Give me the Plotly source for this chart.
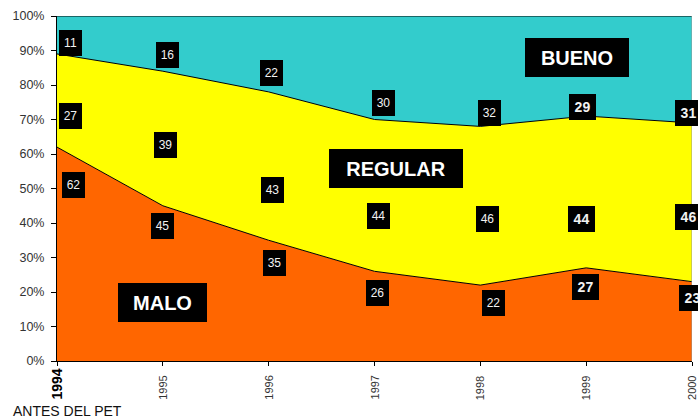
import plotly.graph_objects as go

years = [1994, 1995, 1996, 1997, 1998, 1999, 2000]
malo = [62, 45, 35, 26, 22, 27, 23]
regular = [27, 39, 43, 44, 46, 44, 46]
bueno = [11, 16, 22, 30, 32, 29, 31]
y_ticks = [0, 10, 20, 30, 40, 50, 60, 70, 80, 90, 100]
y_tick_labels = ["0%", "10%", "20%", "30%", "40%", "50%", "60%", "70%", "80%", "90%", "100%"]
x_tick_labels = ["1994", "1995", "1996", "1997", "1998", "1999", "2000"]
series_names = ["MALO", "REGULAR", "BUENO"]
footnote = "ANTES DEL PET"

# label placement (styles/positions, not data)
malo_ly = [50.9, 39.1, 28.3, 19.8, 16.7, 21.4, 18.3]
regular_ly = [71.0, 62.6, 49.7, 41.9, 41.1, 41.2, 41.6]
bueno_ly = [92.2, 88.6, 83.4, 74.7, 72.0, 73.5, 71.9]
malo_dx = [16, 0, 6, 3, 13, -1, 0]
regular_dx = [13, 3, 4, 4, 7, -5, -4]
bueno_dx = [13, 5, 3, 9, 9, -4, -4]
bold_year = [False, False, False, False, False, True, True]

FONT = "Arial, Liberation Sans, sans-serif"
colors = ["#FF6600", "#FFFF00", "#33CCCC"]

fig = go.Figure()
for name, vals, col in zip(series_names, [malo, regular, bueno], colors):
    fig.add_trace(go.Scatter(
        x=years, y=vals, name=name, stackgroup="one", mode="lines",
        line=dict(color="black", width=1), fillcolor=col, hoverinfo="skip"))

anns = []
for vals, lys, dxs in [(malo, malo_ly, malo_dx), (regular, regular_ly, regular_dx),
                       (bueno, bueno_ly, bueno_dx)]:
    for i, (yr, v) in enumerate(zip(years, vals)):
        b = bold_year[i]
        anns.append(dict(
            x=yr, y=lys[i], xref="x", yref="y", xshift=dxs[i],
            xanchor="center", yanchor="middle",
            text=f"<b>{v}</b>" if b else str(v), showarrow=False,
            font=dict(family=FONT, size=14 if b else 12, color="#F2F2F2"),
            bgcolor="black", borderwidth=0, borderpad=0,
            width=27 if b else 23, height=26, align="center", valign="middle"))

# big category labels
for txt, px, py, w in [("MALO", 0.1658, 0.170, 89), ("REGULAR", 0.5336, 0.5586, 134),
                       ("BUENO", 0.8189, 0.8806, 104)]:
    anns.append(dict(
        x=px, y=py, xref="paper", yref="paper", xanchor="center", yanchor="middle",
        text=f"<b>{txt}</b>", showarrow=False,
        font=dict(family=FONT, size=20, color="white"), bgcolor="black",
        borderwidth=0, borderpad=0, width=w, height=39, align="center", valign="middle"))

# rotated x tick labels, bottom-aligned
for i, (yr, lab) in enumerate(zip(years, x_tick_labels)):
    first = i == 0
    anns.append(dict(
        x=yr, y=-0.113, xref="x", yref="paper", textangle=-90, showarrow=False,
        text=f"<b>{lab}</b>" if first else lab, xanchor="center", yanchor="bottom",
        font=dict(family=FONT, size=14 if first else 11, color="black" if first else "#333"),
        borderpad=0, borderwidth=0))

anns.append(dict(
    x=(11 - 57) / 635, y=-0.145, xref="paper", yref="paper", text=footnote,
    showarrow=False, xanchor="left", yanchor="middle",
    font=dict(family=FONT, size=14, color="#111")))

fig.update_layout(
    width=698, height=419,
    margin=dict(l=57, r=6, t=16, b=58),
    paper_bgcolor="white", plot_bgcolor="white",
    showlegend=False,
    annotations=anns,
    shapes=[dict(type="line", xref="x", yref="paper", x0=2000, x1=2000, y0=0, y1=1,
                 line=dict(color="#999999", width=1))],
    xaxis=dict(range=[1994, 2000], tickvals=years, showticklabels=False,
               showline=True, linecolor="black", linewidth=1,
               ticks="outside", ticklen=4, tickcolor="black", showgrid=False,
               zeroline=False, fixedrange=True),
    yaxis=dict(range=[0, 100], tickvals=y_ticks, ticktext=y_tick_labels,
               showline=True, linecolor="black", linewidth=1,
               ticks="outside", ticklen=5, tickcolor="black", showgrid=False,
               zeroline=False, tickfont=dict(family=FONT, size=12.5, color="#333"),
               ticklabelstandoff=4, fixedrange=True),
)

fig.write_html("out.html")
